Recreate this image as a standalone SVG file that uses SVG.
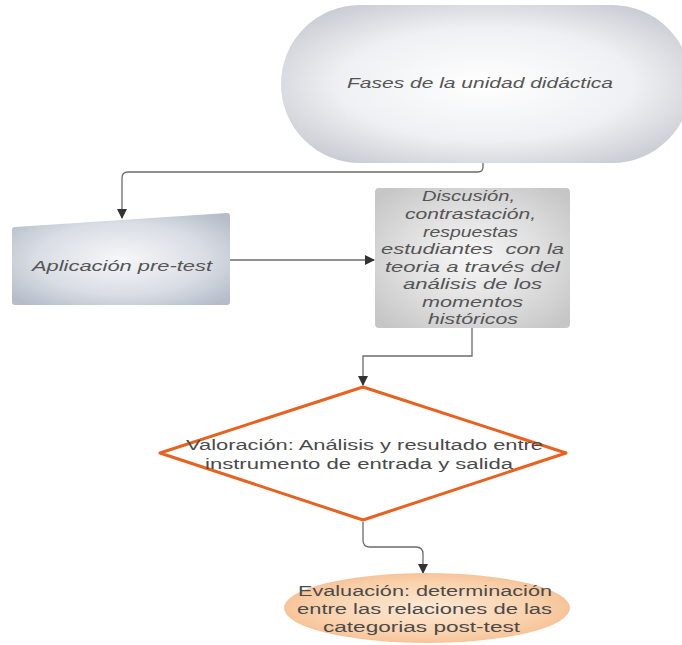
<svg xmlns="http://www.w3.org/2000/svg" width="682" height="645" viewBox="0 0 682 645">
<defs>
<radialGradient id="gTop" cx="0.5" cy="0.5" r="0.6">
<stop offset="0" stop-color="#ffffff"/>
<stop offset="0.6" stop-color="#eff0f3"/>
<stop offset="1" stop-color="#c9ccd3"/>
</radialGradient>
<radialGradient id="gBlue" cx="0.5" cy="0.5" r="0.65">
<stop offset="0" stop-color="#f6f7f9"/>
<stop offset="0.6" stop-color="#d9dde4"/>
<stop offset="1" stop-color="#b6bdc9"/>
</radialGradient>
<radialGradient id="gGray" cx="0.5" cy="0.5" r="0.65">
<stop offset="0" stop-color="#f8f8f8"/>
<stop offset="0.6" stop-color="#dcdcdc"/>
<stop offset="1" stop-color="#c6c6c6"/>
</radialGradient>
<radialGradient id="gOrange" cx="0.5" cy="0.5" r="0.6">
<stop offset="0" stop-color="#fde9d6"/>
<stop offset="0.6" stop-color="#fad3ae"/>
<stop offset="1" stop-color="#f5b98b"/>
</radialGradient>
<marker id="arr" markerWidth="10" markerHeight="10" refX="9" refY="5" orient="auto" markerUnits="userSpaceOnUse">
<path d="M0,0 L10,5 L0,10 Z" fill="#333"/>
</marker>
<style>
.conn{fill:none;stroke:#6b6b6b;stroke-width:1.3}
.it{font-family:"Liberation Sans",Arial,sans-serif;font-style:italic;font-size:14px;fill:#555;text-anchor:start}
.nt{font-family:"Liberation Sans",Arial,sans-serif;font-size:14px;fill:#4a4a4a;text-anchor:start}
</style>
</defs>

<g id="connectors">
<path class="conn" d="M483,163 L483,167 Q483,172 478,172 L128,172 Q122,172 122,178 L122,218" marker-end="url(#arr)"/>
<path class="conn" d="M230,260 L374,260" marker-end="url(#arr)"/>
<path class="conn" d="M472,328 L472,356 L363,356 L363,385" marker-end="url(#arr)"/>
<path class="conn" d="M363,522 L363,540 Q363,547 370,547 L416,547 Q423,547 423,554 L423,573" marker-end="url(#arr)"/>
</g>

<g id="fases">
<rect x="281" y="5" width="410" height="158" rx="79" ry="79" fill="url(#gTop)"/>
<text class="it" x="347" y="88" textLength="266" lengthAdjust="spacingAndGlyphs">Fases de la unidad didáctica</text>
</g>

<g id="aplicacion">
<path d="M15,227 L227,213 Q230,213 230,216 L230,302 Q230,305 227,305 L15,305 Q12,305 12,302 L12,230 Q12,227 15,227 Z" fill="url(#gBlue)"/>
<text class="it" x="32" y="271" textLength="180" lengthAdjust="spacingAndGlyphs">Aplicación pre-test</text>
</g>

<g id="discusion">
<rect x="375" y="188" width="195" height="140" rx="4" fill="url(#gGray)"/>
<text class="it" x="422" y="201" textLength="93" lengthAdjust="spacingAndGlyphs">Discusión,</text>
<text class="it" x="405" y="219" textLength="131" lengthAdjust="spacingAndGlyphs">contrastación,</text>
<text class="it" x="423" y="236.5" textLength="95" lengthAdjust="spacingAndGlyphs">respuestas</text>
<text class="it" x="381" y="254" textLength="183" lengthAdjust="spacingAndGlyphs" xml:space="preserve">estudiantes  con la</text>
<text class="it" x="385" y="271.5" textLength="175" lengthAdjust="spacingAndGlyphs">teoria a través del</text>
<text class="it" x="403" y="289" textLength="139" lengthAdjust="spacingAndGlyphs">análisis de los</text>
<text class="it" x="422" y="306.5" textLength="101" lengthAdjust="spacingAndGlyphs">momentos</text>
<text class="it" x="428" y="324" textLength="90" lengthAdjust="spacingAndGlyphs">históricos</text>
</g>

<g id="valoracion">
<polygon points="363,387 566,453 363,520 160,453" fill="#ffffff" stroke="#e8611e" stroke-width="3" stroke-linejoin="round"/>
<text class="nt" x="186" y="450" textLength="357" lengthAdjust="spacingAndGlyphs">Valoración: Análisis y resultado entre</text>
<text class="nt" x="205" y="469" textLength="308" lengthAdjust="spacingAndGlyphs">instrumento de entrada y salida</text>
</g>

<g id="evaluacion">
<ellipse cx="427" cy="608" rx="143" ry="35" fill="url(#gOrange)"/>
<text class="nt" x="298" y="596" textLength="254" lengthAdjust="spacingAndGlyphs">Evaluación: determinación</text>
<text class="nt" x="297" y="614" textLength="255" lengthAdjust="spacingAndGlyphs">entre las relaciones de las</text>
<text class="nt" x="323" y="632" textLength="197" lengthAdjust="spacingAndGlyphs">categorias post-test</text>
</g>
</svg>
